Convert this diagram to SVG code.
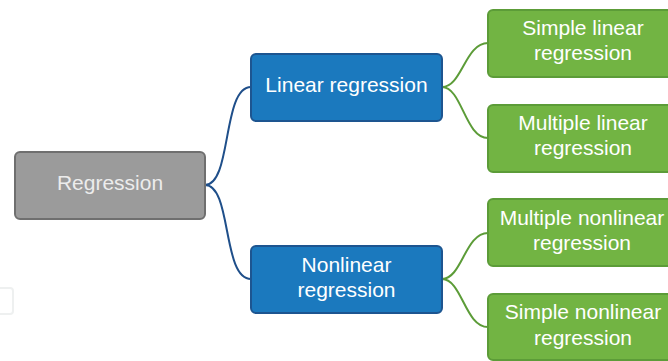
<svg xmlns="http://www.w3.org/2000/svg" width="668" height="361" viewBox="0 0 668 361">
<style>
.t{font-family:"Liberation Sans",Arial,sans-serif;font-size:21px;text-anchor:middle;fill:#ffffff}
.gray{fill:#9b9b9b;stroke:#6f6f6f;stroke-width:2}
.blue{fill:#1b79be;stroke:#1d5590;stroke-width:2}
.green{fill:#72b443;stroke:#5c9c38;stroke-width:2}
.cb{fill:none;stroke:#1f4f8a;stroke-width:2}
.cg{fill:none;stroke:#5c9c38;stroke-width:2}
</style>
<rect width="668" height="361" fill="#ffffff"/>
<rect x="-10" y="288" width="23" height="26" rx="3" fill="none" stroke="#eef0f0" stroke-width="2"/>
<g id="connectors">
<path class="cb" d="M205,185 C232,185 222,87 251,87"/>
<path class="cb" d="M205,185 C232,185 222,279 251,279"/>
<path class="cg" d="M442,87 C462,87 465,43 488,43"/>
<path class="cg" d="M442,87 C462,87 465,138 488,138"/>
<path class="cg" d="M442,279 C462,279 465,233 488,233"/>
<path class="cg" d="M442,279 C462,279 465,327 488,327"/>
</g>
<g id="regression">
<rect class="gray" x="15" y="152" width="190" height="67" rx="5"/>
<text class="t" x="110" y="190" style="fill:#ececec">Regression</text>
</g>
<g id="linear">
<rect class="blue" x="251" y="54" width="191" height="67" rx="5"/>
<text class="t" x="346.5" y="92">Linear regression</text>
</g>
<g id="nonlinear">
<rect class="blue" x="251" y="246" width="191" height="67" rx="5"/>
<text class="t" x="346.5" y="272">Nonlinear</text>
<text class="t" x="346.5" y="297">regression</text>
</g>
<g id="simple-linear">
<rect class="green" x="488" y="10" width="190" height="67" rx="5"/>
<text class="t" x="583" y="35">Simple linear</text>
<text class="t" x="583" y="60">regression</text>
</g>
<g id="multiple-linear">
<rect class="green" x="488" y="105" width="190" height="67" rx="5"/>
<text class="t" x="583" y="130">Multiple linear</text>
<text class="t" x="583" y="155">regression</text>
</g>
<g id="multiple-nonlinear">
<rect class="green" x="488" y="199" width="190" height="67" rx="5"/>
<text class="t" x="582" y="225">Multiple nonlinear</text>
<text class="t" x="582" y="250">regression</text>
</g>
<g id="simple-nonlinear">
<rect class="green" x="488" y="294" width="190" height="66" rx="5"/>
<text class="t" x="583" y="319">Simple nonlinear</text>
<text class="t" x="583" y="345">regression</text>
</g>
</svg>
